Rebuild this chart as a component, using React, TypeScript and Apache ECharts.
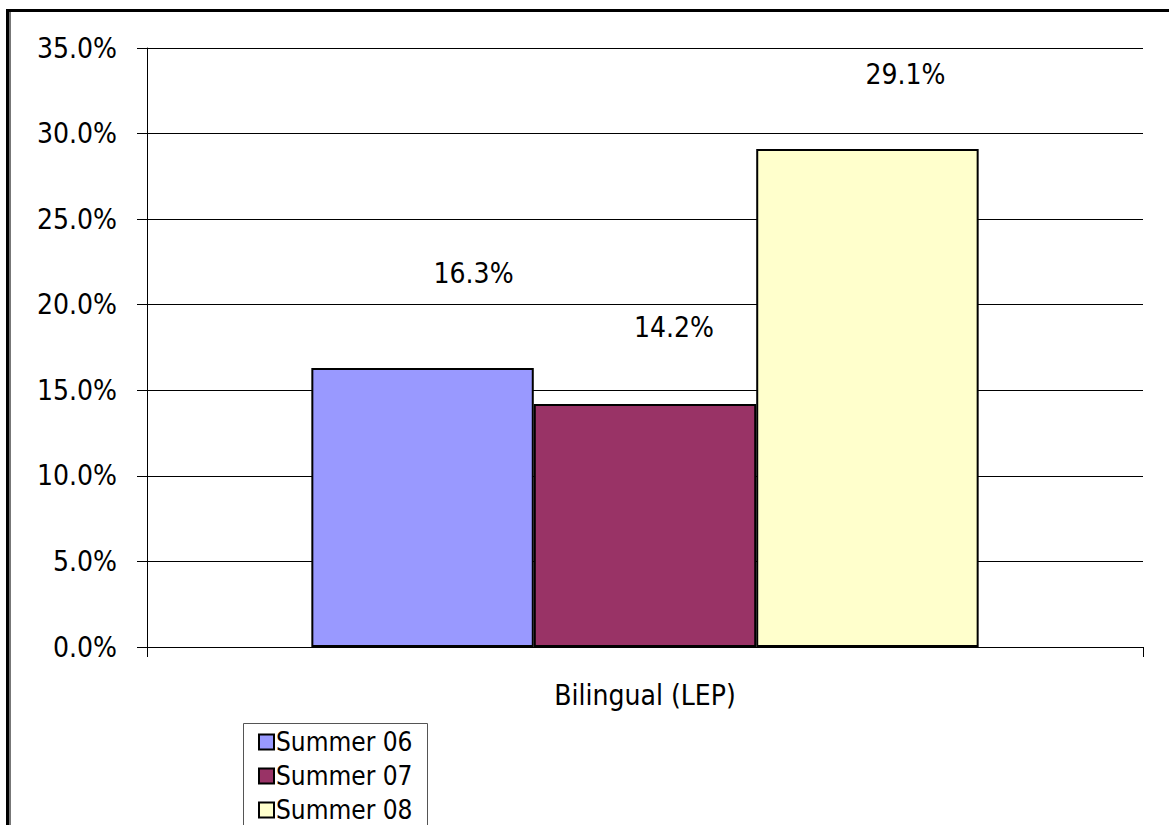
import React, { useEffect, useRef } from "react";
import * as echarts from "echarts";

const categories = ["Bilingual (LEP)"];
const seriesNames = ["Summer 06", "Summer 07", "Summer 08"];
const summer06 = [16.3];
const summer07 = [14.2];
const summer08 = [29.1];
const yTicks = [0, 5, 10, 15, 20, 25, 30, 35];

const colors = ["#9999FF", "#993366", "#FFFFCC"];
// label offsets [dx, dy] mimicking the original's placement
const labelOffsets: [number, number][] = [
  [51, -82],
  [29, -63],
  [38, -61],
];

const FONT = '"DejaVu Sans Condensed", "DejaVu Sans", sans-serif';

export default function App() {
  const ref = useRef<HTMLDivElement>(null);
  useEffect(() => {
    if (!ref.current) return;
    const chart = echarts.init(ref.current, null, { renderer: "svg" });
    const data = [summer06, summer07, summer08];
    chart.setOption({
      animation: false,
      backgroundColor: "#ffffff",
      textStyle: { fontFamily: FONT },
      grid: { left: 147, right: 26, top: 48, bottom: 178, containLabel: false },
      legend: {
        orient: "vertical",
        left: 258,
        top: 727,
        itemWidth: 15,
        itemHeight: 15,
        itemGap: 4,
        padding: 0,
        icon: "rect",
        textStyle: { fontFamily: FONT, fontSize: 26, lineHeight: 30, color: "#000", padding: [0, 0, 0, -3] },
        data: seriesNames,
      },
      xAxis: {
        type: "category",
        data: categories,
        boundaryGap: true,
        axisLine: { show: true, lineStyle: { color: "#000", width: 1 } },
        axisTick: { show: true, length: 10, inside: false, lineStyle: { color: "#000" } },
        axisLabel: { fontFamily: FONT, fontSize: 28, color: "#000", margin: 34 },
      },
      yAxis: {
        type: "value",
        min: 0,
        max: 35,
        interval: 5,
        axisLine: { show: true, lineStyle: { color: "#000", width: 1 } },
        axisTick: { show: true, length: 10, lineStyle: { color: "#000" } },
        splitLine: { show: true, lineStyle: { color: "#000", width: 1 } },
        axisLabel: {
          fontFamily: FONT,
          fontSize: 28,
          color: "#000",
          margin: 30,
          formatter: (v: number) => (yTicks.includes(v) ? v.toFixed(1) + "%" : ""),
        },
      },
      series: seriesNames.map((name, i) => ({
        name,
        type: "bar",
        data: data[i],
        barGap: "0%",
        barCategoryGap: "33%",
        itemStyle: { color: colors[i], borderColor: "#000", borderWidth: 2 },
        label: {
          show: true,
          position: "top",
          distance: 0,
          offset: labelOffsets[i],
          fontFamily: FONT,
          fontSize: 28,
          lineHeight: 26,
          color: "#000",
          formatter: (p: any) => Number(p.value).toFixed(1) + "%",
        },
      })),
      graphic: [
        {
          type: "rect",
          shape: { x: 243.5, y: 723.5, width: 184, height: 110 },
          style: { fill: "none", stroke: "#555", lineWidth: 1 },
          z: 10,
        },
        {
          type: "line",
          shape: { x1: 6, y1: 10.5, x2: 1169, y2: 10.5 },
          style: { stroke: "#000", lineWidth: 3 },
        },
        {
          type: "line",
          shape: { x1: 7.5, y1: 9, x2: 7.5, y2: 825 },
          style: { stroke: "#000", lineWidth: 3 },
        },
        {
          type: "line",
          shape: { x1: 10, y1: 12, x2: 10, y2: 825 },
          style: { stroke: "#777", lineWidth: 2 },
        },
      ],
    });
    return () => chart.dispose();
  }, []);
  return (
    <div
      ref={ref}
      style={{ position: "fixed", left: 0, top: 0, width: 1169, height: 825 }}
    />
  );
}
